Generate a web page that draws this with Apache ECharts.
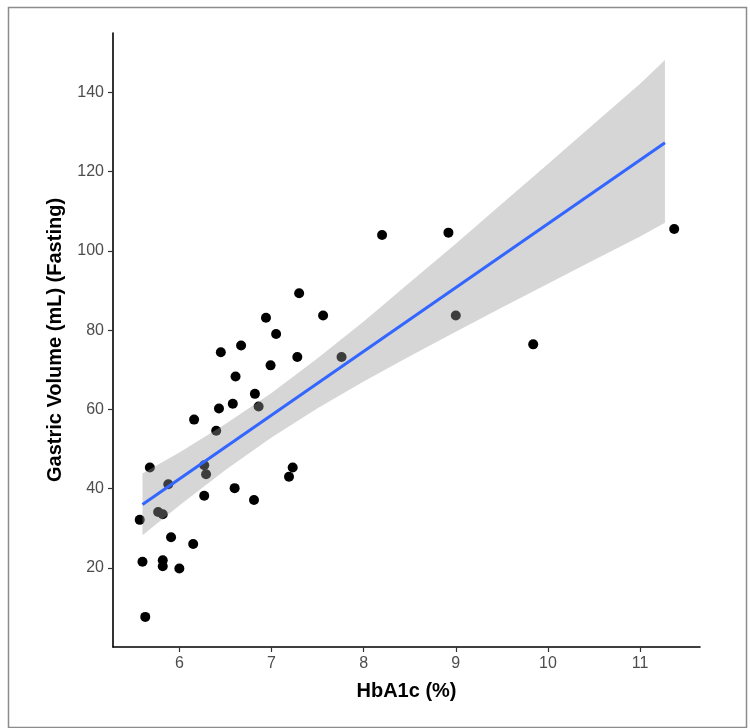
<!DOCTYPE html>
<html>
<head>
<meta charset="utf-8">
<title>HbA1c vs Gastric Volume</title>
<script src="https://cdn.jsdelivr.net/npm/echarts@6/dist/echarts.min.js"></script>
<style>
  html, body { margin: 0; padding: 0; background: #fff; }
  #chart { width: 750px; height: 728px; }
</style>
</head>
<body>
<div id="chart"></div>
<script>
// 观测点 (HbA1c %, 空腹胃容量 mL)
var hba1c = [5.57, 5.60, 5.63, 5.68, 5.77, 5.82, 5.88, 5.82, 5.82, 5.91,
             6.00, 6.15, 6.16, 6.27, 6.27, 6.29, 6.40, 6.43, 6.45, 6.58,
             6.61, 6.60, 6.67, 6.81, 6.82, 6.86, 6.94, 6.99, 7.05, 7.19,
             7.23, 7.28, 7.30, 7.56, 7.76, 8.20, 8.92, 9.00, 9.84, 11.37];
var volume = [32.1, 21.5, 7.6, 45.3, 34.1, 33.5, 41.1, 21.9, 20.4, 27.7,
              19.8, 26.0, 57.4, 38.2, 45.9, 43.6, 54.6, 60.2, 74.4, 61.4,
              68.3, 40.1, 76.1, 37.1, 63.9, 60.7, 83.1, 71.1, 79.0, 43.0,
              45.3, 73.2, 89.3, 83.7, 73.2, 104.0, 104.6, 83.7, 76.4, 105.5];

// 回归线
var fitX = [5.60, 11.27];
var fitY = [36.0, 127.3];

// 置信带
var bandX     = [5.60, 6.00, 6.50, 7.00, 7.50, 8.00, 8.50, 9.00, 9.50, 10.00, 10.50, 11.00, 11.27];
var bandUpper = [43.8, 49.1, 56.3, 64.1, 72.9, 82.2, 92.0, 101.8, 111.9, 121.9, 132.1, 142.2, 148.2];
var bandLower = [28.2, 35.7, 44.7, 52.9, 60.3, 67.0, 73.4, 79.6, 85.7, 91.7, 97.7, 103.6, 107.1];

// 刻度
var xTicks = [6, 7, 8, 9, 10, 11];
var yTicks = [20, 40, 60, 80, 100, 120, 140];

var chart = echarts.init(document.getElementById('chart'));

var points = hba1c.map(function (x, i) { return [x, volume[i]]; });
var bandData = bandX.map(function (x, i) { return [x, bandLower[i], bandUpper[i]]; });

var option = {
    animation: false,
    textStyle: { fontFamily: 'Liberation Sans, Arial, sans-serif' },
    graphic: [{
        type: 'rect',
        left: 6, top: 5,
        shape: { width: 738, height: 720 },
        style: { fill: 'none', stroke: '#8c8c8c', lineWidth: 1.5 },
        silent: true
    }],
    grid: { left: 113, right: 50, top: 33, bottom: 81 },
    xAxis: {
        type: 'value',
        min: 5.28,
        max: 11.65,
        name: 'HbA1c (%)',
        nameLocation: 'middle',
        nameGap: 34,
        nameTextStyle: { color: '#000', fontSize: 20, fontWeight: 'bold' },
        splitLine: { show: false },
        axisLine: { show: true, onZero: false, lineStyle: { color: '#000', width: 1.6 } },
        axisTick: { show: true, customValues: xTicks, length: 5, lineStyle: { color: '#333', width: 1.2 } },
        axisLabel: { customValues: xTicks, color: '#4d4d4d', fontSize: 16, margin: 9 }
    },
    yAxis: {
        type: 'value',
        min: 0,
        max: 155,
        name: 'Gastric Volume (mL) (Fasting)',
        nameLocation: 'middle',
        nameGap: 48,
        nameTextStyle: { color: '#000', fontSize: 20, fontWeight: 'bold' },
        splitLine: { show: false },
        axisLine: { show: true, onZero: false, lineStyle: { color: '#000', width: 1.6 } },
        axisTick: { show: true, customValues: yTicks, length: 5, lineStyle: { color: '#333', width: 1.2 } },
        axisLabel: { customValues: yTicks, color: '#4d4d4d', fontSize: 16, margin: 9 }
    },
    series: [
        {
            name: 'points',
            type: 'scatter',
            z: 1,
            data: points,
            symbol: 'circle',
            symbolSize: 10,
            itemStyle: { color: '#000', opacity: 1 }
        },
        {
            name: 'band',
            type: 'custom',
            z: 3,
            data: bandData,
            clip: true,
            renderItem: function (params, api) {
                if (params.dataIndex !== 0) return;
                var pts = [];
                for (var i = 0; i < bandX.length; i++) {
                    pts.push(api.coord([bandX[i], bandUpper[i]]));
                }
                for (var j = bandX.length - 1; j >= 0; j--) {
                    pts.push(api.coord([bandX[j], bandLower[j]]));
                }
                return {
                    type: 'polygon',
                    shape: { points: pts },
                    style: { fill: 'rgba(153,153,153,0.4)' }
                };
            }
        },
        {
            name: 'fit',
            type: 'line',
            z: 4,
            data: fitX.map(function (x, i) { return [x, fitY[i]]; }),
            symbol: 'none',
            lineStyle: { color: '#3366FF', width: 3 }
        }
    ]
};

chart.setOption(option);
</script>
</body>
</html>
